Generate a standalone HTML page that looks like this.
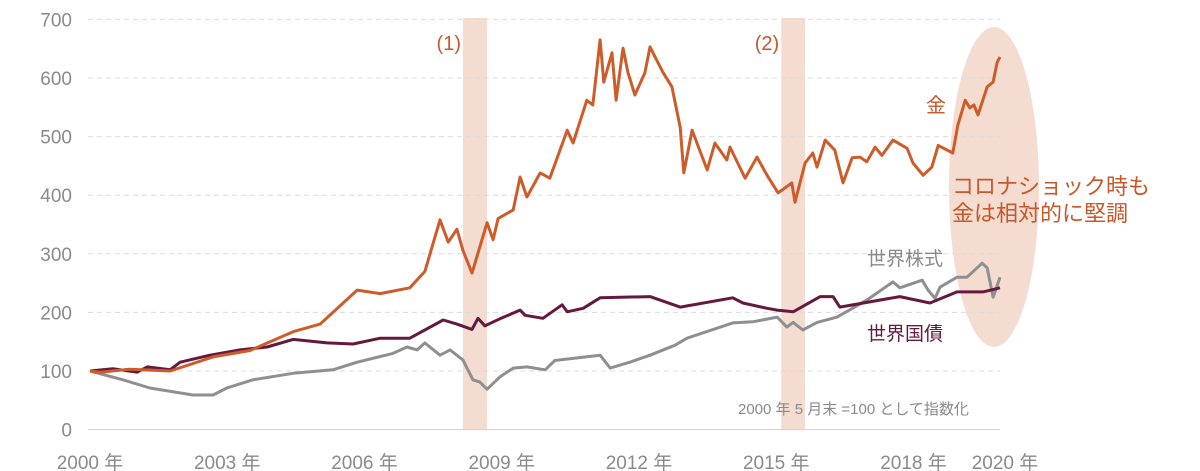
<!DOCTYPE html>
<html><head><meta charset="utf-8">
<style>
html,body{margin:0;padding:0;background:#fff;}
svg{display:block;font-family:"Liberation Sans","Noto Sans CJK JP",sans-serif;}
</style></head>
<body>
<svg id="chart" width="1200" height="471" viewBox="0 0 1200 471">
<g id="bands"></g>
<g id="grid"></g>
<g id="yticks"></g>
<g id="xticks"></g>
<g id="lines"></g>
<g id="notes"></g>
</svg>
<script>
const yTickValues=[0,100,200,300,400,500,600,700];
const xTickYears=[2000,2003,2006,2009,2012,2015,2018,2020];
const xTickLabels=["2000 年","2003 年","2006 年","2009 年","2012 年","2015 年","2018 年","2020 年"];
const shockPeriods=[[2008.15,2008.68],[2015.11,2015.63]];
const shockLabels=["(1)","(2)"];
const goldYears=[2000.0,2000.22,2000.87,2001.75,2002.69,2003.5,2004.44,2005.03,2005.84,2006.34,2006.99,2007.32,2007.65,2007.83,2008.02,2008.15,2008.35,2008.68,2008.81,2008.92,2009.25,2009.4,2009.55,2009.84,2010.05,2010.43,2010.56,2010.86,2010.99,2011.15,2011.23,2011.41,2011.5,2011.65,2011.76,2011.91,2012.13,2012.24,2012.52,2012.72,2012.9,2012.98,2013.16,2013.49,2013.66,2013.92,2013.99,2014.32,2014.58,2014.8,2015.04,2015.34,2015.41,2015.63,2015.8,2015.89,2016.07,2016.28,2016.46,2016.66,2016.83,2016.98,2017.16,2017.31,2017.55,2017.86,2017.99,2018.21,2018.4,2018.54,2018.86,2018.97,2019.13,2019.23,2019.32,2019.41,2019.61,2019.74,2019.83,2019.89];
const goldValues=[100,98,103,100,124,135,167,180,238,232,242,270,358,320,342,306,267,353,324,360,375,431,397,438,429,511,489,562,554,665,593,643,562,651,609,571,609,653,610,585,516,438,511,443,489,460,482,429,465,434,404,421,388,455,472,448,494,477,421,464,465,457,482,468,494,480,455,434,448,485,472,520,562,549,554,537,585,593,627,636];
const stockYears=[2000.0,2000.72,2001.31,2002.25,2002.69,2002.99,2003.56,2004.44,2005.31,2005.84,2006.62,2006.93,2007.15,2007.32,2007.65,2007.87,2008.15,2008.37,2008.52,2008.68,2008.96,2009.25,2009.55,2009.95,2010.16,2011.15,2011.37,2011.8,2012.24,2012.79,2013.05,2014.05,2014.49,2015.02,2015.23,2015.37,2015.58,2015.89,2016.33,2016.98,2017.55,2017.7,2018.19,2018.32,2018.47,2018.58,2018.95,2019.17,2019.5,2019.61,2019.74,2019.89];
const stockValues=[100,85,71,59,59,71,85,96,102,115,130,141,136,148,127,136,119,85,81,69,90,105,107,102,118,127,105,115,127,144,156,182,184,192,175,183,170,183,192,221,252,242,255,238,224,243,260,260,284,276,226,260];
const bondYears=[2000.0,2000.5,2001.03,2001.25,2001.75,2001.97,2002.62,2003.28,2003.87,2004.44,2005.18,2005.75,2006.34,2006.99,2007.72,2008.02,2008.35,2008.48,2008.63,2008.96,2009.4,2009.51,2009.9,2010.32,2010.43,2010.78,2011.15,2012.24,2012.9,2014.05,2014.27,2014.8,2015.02,2015.37,2015.96,2016.24,2016.39,2017.7,2018.36,2018.95,2019.52,2019.89];
const bondValues=[100,104,98,107,102,115,127,136,141,154,148,146,156,156,187,180,171,190,177,189,204,195,190,213,201,207,225,227,209,225,216,207,204,201,227,227,209,227,216,235,235,242];

const NS="http://www.w3.org/2000/svg";
const xS=yr=>90+(yr-2000)*45.75;
const yS=v=>429.6-v*0.586;
function mk(tag,attrs,parent){const e=document.createElementNS(NS,tag);for(const k in attrs)e.setAttribute(k,attrs[k]);parent.appendChild(e);return e;}
const bands=document.getElementById('bands'),grid=document.getElementById('grid'),yt=document.getElementById('yticks'),xt=document.getElementById('xticks'),lines=document.getElementById('lines'),notes=document.getElementById('notes');

shockPeriods.forEach((p,i)=>{
  const r=mk('rect',{x:xS(p[0]),y:18,width:xS(p[1])-xS(p[0]),height:412,fill:'#f4dcd1'},bands);
  
  
  const t=mk('text',{x:(xS(p[0])+xS(p[1]))/2-14,y:50,'font-size':20,fill:'#c8582a','text-anchor':'end'},notes);
  t.textContent=shockLabels[i];
  
  
});
const ell=mk('ellipse',{cx:994,cy:187,rx:45,ry:160,fill:'#f4dcd1'},bands);



yTickValues.forEach(v=>{
  if(v>0){const g=mk('line',{x1:88,x2:1000,y1:yS(v),y2:yS(v),stroke:'#dcdcdc','stroke-width':1,'stroke-dasharray':'5,4'},grid);
  
  }
  const t=mk('text',{x:72,y:yS(v)+7,'font-size':19,fill:'#8a8a8a','text-anchor':'end'},yt);
  t.textContent=v;
  
  
});
const ax=mk('line',{x1:88,x2:1000,y1:yS(0),y2:yS(0),stroke:'#cfcfcf','stroke-width':1},grid);


xTickYears.forEach((yr,i)=>{
  const t=mk('text',{x:xS(yr),y:469,'font-size':19,fill:'#8a8a8a','text-anchor':'middle'},xt);
  t.textContent=xTickLabels[i];
  
  
});
function series(ys,vs,color,name){
  const d=ys.map((y,i)=>(i?'L':'M')+xS(y).toFixed(1)+','+yS(vs[i]).toFixed(1)).join('');
  const p=mk('path',{d:d,fill:'none',stroke:color,'stroke-width':3,'stroke-linejoin':'round'},lines);
  
  
}
series(stockYears,stockValues,'#8f8f8f','world-stocks-line');
series(bondYears,bondValues,'#65193f','world-bonds-line');
series(goldYears,goldValues,'#cd5c2a','gold-line');

function note(txt,x,y,size,color,name,anchor){
  const t=mk('text',{x:x,y:y,'font-size':size,fill:color,'text-anchor':anchor||'start'},notes);
  t.textContent=txt;
  
  
}
note('金',926,112,20,'#c8582a','gold-label');
note('コロナショック時も',952,194,22,'#c8582a','corona-note-line1');
note('金は相対的に堅調',952,221,22,'#c8582a','corona-note-line2');
note('世界株式',867,265,19,'#8a8a8a','stocks-label');
note('世界国債',867,340,19,'#65193f','bonds-label');
note('2000 年 5 月末 =100 として指数化',738,414,15,'#8a8a8a','index-note');
</script>
</body></html>
